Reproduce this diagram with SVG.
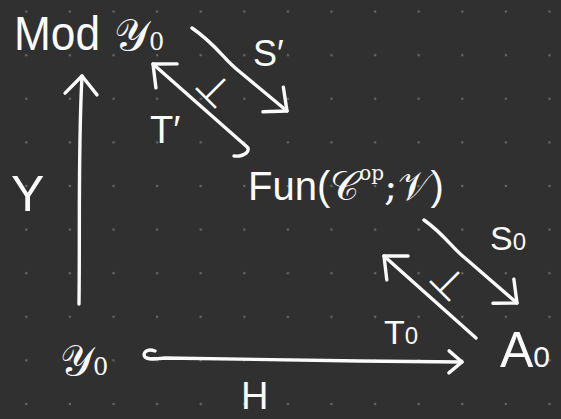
<svg xmlns="http://www.w3.org/2000/svg" width="561" height="419" viewBox="0 0 561 419">
  <defs>
    <pattern id="dots" patternUnits="userSpaceOnUse" x="4.5" y="-10.2" width="43.6" height="43.6">
      <circle cx="21.8" cy="21.8" r="1.3" fill="#666666"/>
    </pattern>
    <marker id="head" markerUnits="userSpaceOnUse" orient="auto" viewBox="-30 -20 34 40" refX="0" refY="0" markerWidth="34" markerHeight="40">
      <path d="M-18,-16 L0,0 L-18,16" fill="none" stroke="#fafafa" stroke-width="3.4" stroke-linecap="round" stroke-linejoin="round"/>
    </marker>
    <marker id="headS" markerUnits="userSpaceOnUse" orient="auto" viewBox="-30 -20 34 40" refX="0" refY="0" markerWidth="34" markerHeight="40">
      <path d="M-13,-11 L0,0 L-13,11" fill="none" stroke="#fafafa" stroke-width="3.4" stroke-linecap="round" stroke-linejoin="round"/>
    </marker>
  </defs>
  <style>
    .lbl { font-family: "Liberation Sans", "DejaVu Sans", sans-serif; fill: #fafafa; }
    .math { font-family: "DejaVu Serif", "DejaVu Sans", "Liberation Serif", serif; fill: #fafafa; }
    .edge { fill: none; stroke: #fafafa; stroke-width: 3.4; stroke-linecap: round; stroke-linejoin: round; }
  </style>
  <rect width="561" height="419" fill="#303030"/>
  <rect width="561" height="419" fill="url(#dots)"/>

  <g id="connectors">
    <path class="edge" d="M79,304 C80,230 78,150 82,76" marker-end="url(#head)"/>
    <path class="edge" d="M155,351 C147,348 142,353 145,357 C148,360 155,359 165,358 L360,361 L462,362" marker-end="url(#headS)"/>
    <path class="edge" d="M192,28 C218,46 222,58 240,72 L287,111" marker-end="url(#head)"/>
    <path class="edge" d="M234,156 C245,157 252,150 246,146 L153,64" marker-end="url(#head)"/>
    <path class="edge" d="M424,220 C445,235 452,248 465,258 L517,303" marker-end="url(#head)"/>
    <path class="edge" d="M476,338 L384,256" marker-end="url(#head)"/>
  </g>

  <g id="node-mod">
    <text class="lbl" x="14" y="50" font-size="48" textLength="86" lengthAdjust="spacingAndGlyphs">Mod</text>
    <text class="math" x="114" y="50" font-size="44">𝒴<tspan font-size="24">0</tspan></text>
  </g>
  <g id="node-fun">
    <text class="lbl" x="248" y="200" font-size="40">Fun(<tspan class="math">𝒞</tspan><tspan class="math" font-size="20" dy="-20">op</tspan><tspan class="math" dy="20">;</tspan><tspan class="math">𝒱</tspan>)</text>
  </g>
  <g id="node-y0">
    <text class="math" x="60" y="375" font-size="42">𝒴<tspan font-size="24">0</tspan></text>
  </g>
  <g id="node-a0">
    <text class="lbl" x="500" y="367" font-size="50">A<tspan font-size="30">0</tspan></text>
  </g>

  <g id="labels">
    <text class="lbl" x="253" y="66" font-size="36">S′</text>
    <text class="lbl" x="150" y="143" font-size="38">T′</text>
    <text class="lbl" x="490" y="250" font-size="34">S<tspan font-size="24">0</tspan></text>
    <text class="lbl" x="384" y="344" font-size="34">T<tspan font-size="24">0</tspan></text>
    <text class="lbl" x="11" y="211" font-size="50">Y</text>
    <text class="lbl" x="241" y="409" font-size="38">H</text>
    <text class="lbl" x="0" y="0" font-size="40" transform="translate(215,89) rotate(45)" text-anchor="middle" dominant-baseline="central">⊥</text>
    <text class="lbl" x="0" y="0" font-size="40" transform="translate(449,282) rotate(45)" text-anchor="middle" dominant-baseline="central">⊥</text>
  </g>
</svg>
